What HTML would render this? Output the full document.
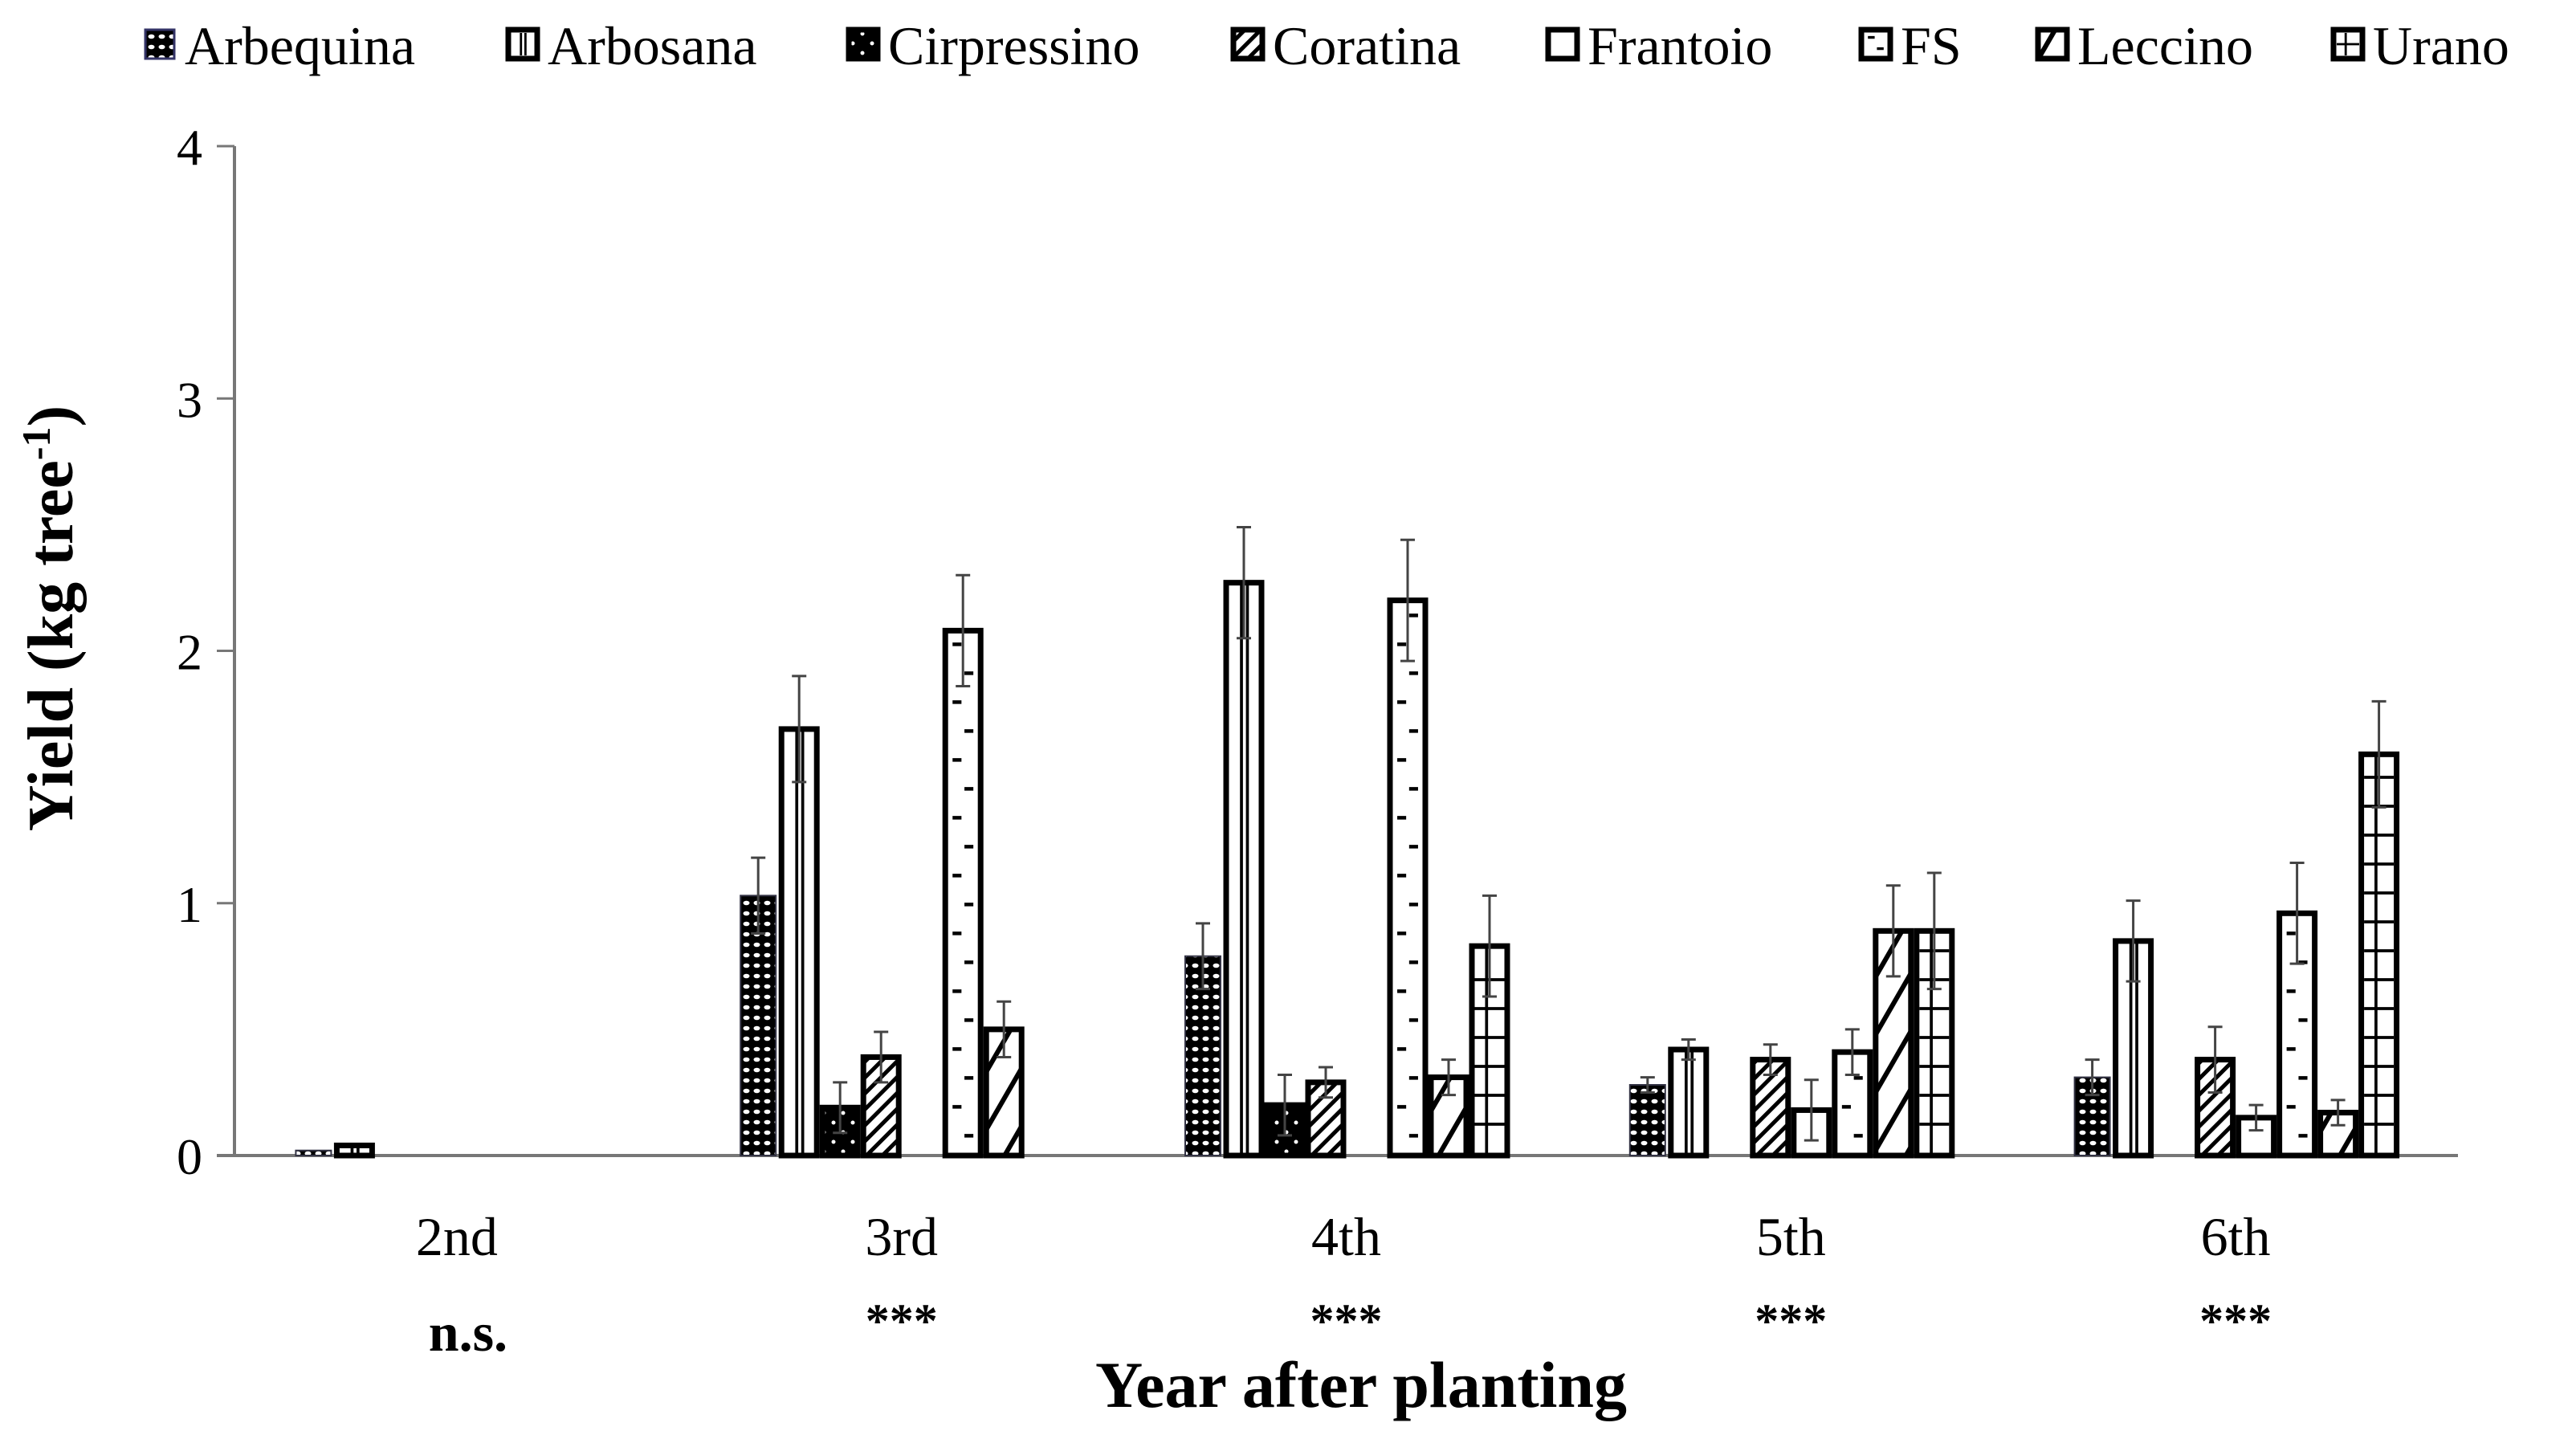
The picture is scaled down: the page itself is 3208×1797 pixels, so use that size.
<!DOCTYPE html>
<html><head><meta charset="utf-8"><style>
html,body{margin:0;padding:0;background:#fff;}
svg{display:block;font-family:"Liberation Serif",serif;}
</style></head><body>
<svg id="chart" width="3208" height="1797" viewBox="0 0 3208 1797" xmlns="http://www.w3.org/2000/svg">
<defs>
 <pattern id="p-arbequina" patternUnits="userSpaceOnUse" width="13" height="13">
  <rect width="13" height="13" fill="#000"/><ellipse cx="6.5" cy="6.5" rx="4" ry="2.8" fill="#fff"/>
 </pattern>
 <pattern id="p-cirpressino" patternUnits="userSpaceOnUse" width="24" height="24">
  <rect width="24" height="24" fill="#000"/><circle cx="6" cy="6" r="2.5" fill="#fff"/><circle cx="18" cy="18" r="2.5" fill="#fff"/>
 </pattern>
 <pattern id="p-coratina" patternUnits="userSpaceOnUse" width="14" height="14" patternTransform="rotate(45)">
  <rect width="14" height="14" fill="#fff"/><rect width="5" height="14" fill="#000"/>
 </pattern>
 <pattern id="p-leccino" patternUnits="userSpaceOnUse" width="36" height="36" patternTransform="rotate(30)">
  <rect width="36" height="36" fill="#fff"/><rect width="6" height="36" fill="#000"/>
 </pattern>
</defs>
<g id="legend"></g>
<g id="axes"></g>
<g id="bars"></g>
</svg>
<script>
const categories = ["2nd","3rd","4th","5th","6th"];
const significance = ["n.s.","***","***","***","***"];
const cultivars = ["Arbequina","Arbosana","Cirpressino","Coratina","Frantoio","FS","Leccino","Urano"];
const arbequina = [0.02,1.03,0.79,0.28,0.31];
const arbosana = [0.04,1.69,2.27,0.42,0.85];
const cirpressino = [0,0.19,0.20,0,0];
const coratina = [0,0.39,0.29,0.38,0.38];
const frantoio = [0,0,0,0.18,0.15];
const fs = [0,2.08,2.20,0.41,0.96];
const leccino = [0,0.50,0.31,0.89,0.17];
const urano = [0,0,0.83,0.89,1.59];
const arbequinaErr = [0,0.15,0.13,0.03,0.07];
const arbosanaErr = [0,0.21,0.22,0.04,0.16];
const cirpressinoErr = [0,0.10,0.12,0,0];
const coratinaErr = [0,0.10,0.06,0.06,0.13];
const frantoioErr = [0,0,0,0.12,0.05];
const fsErr = [0,0.22,0.24,0.09,0.20];
const leccinoErr = [0,0.11,0.07,0.18,0.05];
const uranoErr = [0,0,0.20,0.23,0.21];
const yTicks = [0,1,2,3,4];

const series = [arbequina,arbosana,cirpressino,coratina,frantoio,fs,leccino,urano];
const errs = [arbequinaErr,arbosanaErr,cirpressinoErr,coratinaErr,frantoioErr,fsErr,leccinoErr,uranoErr];
const fills = ["url(#p-arbequina)","#fff","url(#p-cirpressino)","url(#p-coratina)","#fff","#fff","url(#p-leccino)","#fff"];
const NS="http://www.w3.org/2000/svg";
const X0=292, X1=3061, Y0=1439, Y4=182, YMAX=4;
const bw=51;
function y(v){return Y0-(v/YMAX)*(Y0-Y4);}
function xc(i){const w=(X1-X0)/categories.length;return X0+w*(i+0.5);}
function mk(tag,attrs,parent,txt){const e=document.createElementNS(NS,tag);for(const k in attrs)e.setAttribute(k,attrs[k]);if(txt!==undefined)e.textContent=txt;parent.appendChild(e);return e;}
const axes=document.getElementById('axes'), bars=document.getElementById('bars'), legend=document.getElementById('legend');

function decorate(j,x,top,w,bottom,parent,step){
 // x,top = inner-left/top; w inner width
 let d='';
 if(j===1){ d+=`M${x+w*0.42},${top}V${bottom}M${x+w*0.62},${top}V${bottom}`; mk('path',{d,stroke:'#000','stroke-width':w*0.1,fill:'none'},parent); return; }
 if(j===5){ for(let yy=bottom-step*0.6,k=0;yy>top+4;yy-=step,k++){ const xx=k%2?x+w*0.15:x+w*0.55; d+=`M${xx},${yy}H${xx+w*0.3}`;} mk('path',{d,stroke:'#000','stroke-width':w*0.12,fill:'none'},parent); return; }
 if(j===7){ d+=`M${x+w*0.4},${top}V${bottom}`; for(let yy=bottom-step;yy>top+6;yy-=step){ d+=`M${x},${yy}H${x+w}`;} mk('path',{d,stroke:'#000','stroke-width':w*0.1,fill:'none'},parent); return; }
}

// axes
let a=mk('line',{x1:X0,y1:Y4,x2:X0,y2:Y0,stroke:'#777','stroke-width':4},axes);


a=mk('line',{x1:X0-22,y1:Y0,x2:X1,y2:Y0,stroke:'#777','stroke-width':4},axes);


yTicks.forEach(t=>{
 const tk=mk('line',{x1:X0-22,y1:y(t),x2:X0,y2:y(t),stroke:'#777','stroke-width':3},axes);
 
 
 const tl=mk('text',{x:X0-40,y:y(t)+23,'text-anchor':'end','font-size':64},axes,String(t));
 
 
});
let yt=mk('text',{x:0,y:0,transform:'translate(90,770) rotate(-90)','text-anchor':'middle','font-size':80,'font-weight':'bold'},axes);


yt.innerHTML='Yield (kg tree<tspan dy="-28" font-size="50">-1</tspan><tspan dy="28">)</tspan>';
categories.forEach((c,i)=>{
 const cl=mk('text',{x:xc(i),y:1563,'text-anchor':'middle','font-size':68},axes,c);
 
 
 const ns=significance[i]==='n.s.';
 const sl=mk('text',{x:xc(i)+(ns?14:0),y:ns?1682:1665,'text-anchor':'middle','font-size':ns?68:60,'font-weight':'bold'},axes,significance[i]);
 
 
});
let xt=mk('text',{x:1695,y:1752,'text-anchor':'middle','font-size':82,'font-weight':'bold'},axes,'Year after planting');



// bars
categories.forEach((c,i)=>{
 series.forEach((s,j)=>{
  const v=s[i]; if(v<=0) return;
  const x=xc(i)-4*bw+j*bw;
  const top=y(v);
  const r=mk('rect',{x:x+3.5,y:top,width:bw-7,height:Y0-top,fill:fills[j],stroke:j===0?'#334':'#000','stroke-width':j===0?2:7},bars);
  
  
  decorate(j,x+7,top+3,bw-14,Y0-3,bars,36);
  const e=errs[j][i];
  if(e>0){
   const cx=x+bw/2;
   const el=mk('path',{d:`M${cx},${y(v-e)}V${y(v+e)}M${cx-9},${y(v+e)}H${cx+9}M${cx-9},${y(v-e)}H${cx+9}`,stroke:'#444','stroke-width':3,fill:'none'},bars);
   
   
  }
 });
});

// legend
const legX=[178,630,1054,1533,1925,2315,2535,2903];
cultivars.forEach((n,j)=>{
 const g=mk('g',{},legend);
 
 
 mk('rect',{x:legX[j]+3,y:37,width:36,height:36,fill:fills[j],stroke:j===0?'#336':'#000','stroke-width':j===0?3:7},g);
 decorate(j,legX[j]+7,41,28,69,g,14);
 mk('text',{x:legX[j]+52,y:80,'font-size':68},g,n);
});
</script>
</body></html>
